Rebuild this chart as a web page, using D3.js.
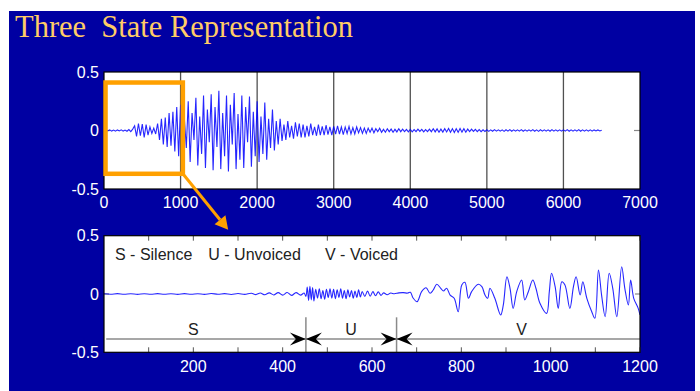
<!DOCTYPE html>
<html><head><meta charset="utf-8">
<script src="https://cdn.jsdelivr.net/npm/d3@7"></script>
<style>
html,body{margin:0;padding:0;background:#fff;}
svg{display:block;}
</style></head>
<body>
<script>
// ---------- DATA ----------
const title = "Three\u00a0\u00a0State Representation";
const topXTicks = [0,1000,2000,3000,4000,5000,6000,7000];
const topYTicks = [-0.5, 0, 0.5];
const topStep = 25; // samples between values of topWave
const topWave = [
 0,0.005,-0.004,0.006,-0.005,0.004,-0.006,0.005,-0.004,0.006,-0.005,0.004,-0.006,0.008,-0.01,0.012,
 0.04,-0.05,0.06,-0.045,0.055,-0.06,0.05,-0.04,
 0.03,-0.025,0.02,-0.03,
 0.06,-0.08,0.1,-0.12,0.11,-0.14,0.15,-0.13,0.16,-0.18,0.2,-0.22,
 0.22,-0.26,0.1,-0.15,0.25,-0.27,0.15,-0.08,0.28,-0.3,0.12,-0.2,0.3,-0.32,0.18,-0.1,0.31,-0.34,0.2,-0.14,
 0.34,-0.33,0.15,-0.22,0.3,-0.35,0.22,-0.12,0.32,-0.33,0.14,-0.25,0.3,-0.32,0.2,-0.1,0.29,-0.31,0.16,-0.22,
 0.25,-0.27,0.12,-0.2,0.24,-0.25,0.1,-0.15,0.18,-0.17,0.08,-0.12,0.1,-0.09,0.05,-0.08,0.08,-0.06,0.04,-0.07,
 0.07,-0.05,0.06,-0.06,0.05,-0.06,0.04,-0.05,0.06,-0.04,0.03,-0.045,0.05,-0.04,0.035,-0.04,0.045,-0.035,0.03,-0.04,
 0.035,-0.03,0.04,-0.03,0.03,-0.035,0.03,-0.025,0.035,-0.03,0.025,-0.03,0.03,-0.02,0.025,-0.025,0.02,-0.025,0.02,-0.015,
 0.02,-0.02,0.015,-0.01,0.02,-0.015,0.01,-0.015,0.015,-0.01,0.012,-0.015,0.01,-0.012,0.015,-0.01,0.012,-0.01,0.01,-0.012,
 0.01,-0.012,0.008,-0.01,0.012,-0.008,0.01,-0.012,0.008,-0.01,0.012,-0.01,0.015,-0.012,0.014,-0.015,0.012,-0.014,0.016,-0.012,
 0.018,-0.015,0.016,-0.018,0.015,-0.016,0.018,-0.014,0.016,-0.015,0.012,-0.01,0.012,-0.008,0.01,-0.01,0.008,-0.01,0.006,-0.008,
 0.006,-0.007,0.005,-0.006,0.007,-0.005,0.006,-0.006,0.005,-0.007,0.006,-0.005,0.007,-0.006,0.005,-0.006,0.006,-0.005,0.007,-0.006,
 0.005,-0.006,0.006,-0.005,0.007,-0.006,0.005,-0.007,0.006,-0.005,0.006,-0.006,0.005,-0.006,0.007,-0.005,0.006,-0.006,0.005,-0.006,
 0.006,-0.005,0.007,-0.006,0.005,-0.006,0.006,-0.005,0.007,-0.006,0.005,-0.006,0.006,-0.005,0.006,-0.006,0.005,-0.004,0.005,-0.004,0.003
];

const bottomXTicks = [100,200,300,400,500,600,700,800,900,1000,1100,1200];
const bottomXLabels = [200,400,600,800,1000,1200];
const bottomYTicks = [-0.5, 0, 0.5];
const bottomWave = [
 [0,0.002],[15,-0.002],[30,0.003],[45,-0.002],[60,0.002],[75,-0.003],[90,0.002],[105,-0.002],[120,0.003],[135,-0.002],
 [150,0.002],[165,-0.003],[180,0.003],[195,-0.002],[210,0.002],[225,-0.003],[240,0.004],[255,-0.002],[270,0.003],[285,-0.004],
 [300,0.004],[315,-0.003],[330,0.006],[340,-0.005],[350,0.008],[360,-0.007],[370,0.01],[380,-0.008],[390,0.012],[400,-0.01],
 [410,0.013],[420,-0.012],[430,0.012],[440,-0.01],[448,0.008],
 [452,-0.02],[455,0.06],[458,-0.055],[461,0.065],[464,-0.05],[467,0.055],[470,-0.06],[474,0.04],[478,-0.035],[482,0.045],
 [486,-0.04],[490,0.03],[494,-0.045],[498,0.04],[502,-0.03],[506,0.045],[510,-0.035],[514,0.04],[518,-0.04],[522,0.035],
 [526,-0.03],[530,0.045],[534,-0.035],[538,0.03],[542,-0.04],[546,0.035],[550,-0.025],[554,0.03],[558,-0.035],[562,0.025],
 [566,-0.03],[570,0.035],[574,-0.025],[578,0.02],[584,-0.02],[590,0.025],[596,-0.018],[602,0.02],[608,-0.015],[614,0.018],
 [620,-0.012],[626,0.01],[634,-0.006],[642,0.008],[650,0.002],[660,0.01],[670,0.012],[680,0.008],[686,0.015],
 [692,-0.034],[701,-0.066],[711,0.02],[721,0.054],[730,0.006],[737,0.034],[745,0.083],[754,0.049],[760,0.026],[767,0.049],
 [775,-0.009],[784,-0.037],[793,-0.152],[801,0.077],[808,0.1],[816,-0.037],[823,0.02],[838,0.083],[846,0.063],[853,-0.009],
 [859,-0.037],[864,0.049],[875,-0.037],[888,-0.18],[894,-0.094],[902,0.148],[909,0.049],[916,-0.123],[924,0.02],[935,0.12],
 [942,-0.051],[950,0.02],[960,0.12],[967,0.049],[976,-0.08],[991,-0.166],[997,0.02],[1002,0.178],[1010,0.063],[1017,-0.123],
 [1025,0.105],[1032,0.077],[1043,-0.123],[1051,0.063],[1057,0.148],[1066,-0.009],[1072,0.105],[1081,-0.037],[1092,-0.152],[1099,-0.208],
 [1107,0.206],[1114,-0.009],[1122,-0.195],[1131,0.178],[1139,0.049],[1148,-0.195],[1159,0.234],[1166,0.049],[1174,-0.094],[1179,0.12],
 [1186,-0.037],[1196,-0.123],[1200,-0.18]
];
const legendItems = ["S - Silence", "U - Unvoiced", "V - Voiced"];
const segBounds = [452, 655];          // sample positions of S/U and U/V boundaries
const segLabels = [["S",200],["U",553],["V",935]];
const zoomBox = {x0: 20, x1: 1030, y0: -0.37, y1: 0.41};

// ---------- LAYOUT ----------
const W = 700, H = 391;
const svg = d3.select("body").append("svg").attr("width", W).attr("height", H);
svg.append("rect").attr("x", 9).attr("y", 11).attr("width", 686).attr("height", 380).attr("fill", "#0000A2");

svg.append("text").attr("x", 15).attr("y", 37)
  .attr("font-family", "'Liberation Serif','Times New Roman',serif")
  .attr("font-size", 30.5).attr("fill", "#FFCC66").text(title);

const font = "'Liberation Sans',Arial,sans-serif";

// top plot
const tx = d3.scaleLinear().domain([0, 7000]).range([104, 640]);
const ty = d3.scaleLinear().domain([-0.5, 0.5]).range([189, 72]);
// bottom plot
const bx = d3.scaleLinear().domain([0, 1200]).range([104, 640]);
const by = d3.scaleLinear().domain([-0.5, 0.5]).range([352.3, 235.7]);

function panel(x, y) {
  svg.append("rect").attr("x", x.range()[0]).attr("y", y.range()[1])
    .attr("width", x.range()[1]-x.range()[0]).attr("height", y.range()[0]-y.range()[1])
    .attr("fill", "#fff");
}
panel(tx, ty); panel(bx, by);

// top grid
const tg = svg.append("g");
tg.selectAll("line").data(topXTicks.slice(1, -1)).join("line")
  .attr("x1", d => tx(d)).attr("x2", d => tx(d)).attr("y1", ty(0.5)).attr("y2", ty(-0.5))
  .attr("stroke", "#505050").attr("stroke-width", 1.3);
[0].forEach(v => {
  svg.append("line").attr("x1", tx(7000)-6).attr("x2", tx(7000)).attr("y1", ty(v)).attr("y2", ty(v)).attr("stroke", "#888").attr("stroke-width", 1.2);
  svg.append("line").attr("x1", tx(0)).attr("x2", tx(0)+6).attr("y1", ty(v)).attr("y2", ty(v)).attr("stroke", "#888").attr("stroke-width", 1.2);
});

// top waveform
const topLine = d3.line().x((d, i) => tx(i*topStep)).y(d => ty(d));
svg.append("path").datum(topWave).attr("d", topLine).attr("fill", "none")
  .attr("stroke", "#0000FF").attr("stroke-width", 1.1).attr("stroke-opacity", 0.85);

// top frame
svg.append("rect").attr("x", 104).attr("y", 72).attr("width", 536).attr("height", 117)
  .attr("fill", "none").attr("stroke", "#000").attr("stroke-width", 1.2);

// top axis labels
svg.append("g").selectAll("text").data(topXTicks).join("text")
  .attr("x", d => tx(d)).attr("y", ty(-0.5) + 19).attr("text-anchor", "middle")
  .attr("font-family", font).attr("font-size", 16).attr("fill", "#fff").text(d => d);
svg.append("g").selectAll("text").data(topYTicks).join("text")
  .attr("x", 99).attr("y", d => ty(d)).attr("dy", "0.36em").attr("text-anchor", "end")
  .attr("font-family", font).attr("font-size", 16).attr("fill", "#fff").text(d => d);

// bottom ticks
const btk = svg.append("g");
bottomXTicks.forEach(v => {
  btk.append("line").attr("x1", bx(v)).attr("x2", bx(v)).attr("y1", by(-0.5)).attr("y2", by(-0.5)-5).attr("stroke", "#555");
  btk.append("line").attr("x1", bx(v)).attr("x2", bx(v)).attr("y1", by(0.5)).attr("y2", by(0.5)+5).attr("stroke", "#555");
});
[0].forEach(v => {
  btk.append("line").attr("x1", bx(1200)-5).attr("x2", bx(1200)).attr("y1", by(v)).attr("y2", by(v)).attr("stroke", "#888").attr("stroke-width", 1.2);
  btk.append("line").attr("x1", bx(0)).attr("x2", bx(0)+5).attr("y1", by(v)).attr("y2", by(v)).attr("stroke", "#888").attr("stroke-width", 1.2);
});

// segment annotation
const segY = -0.387;
svg.append("line").attr("x1", bx(5)).attr("x2", bx(1200)).attr("y1", by(segY)).attr("y2", by(segY))
  .attr("stroke", "#8a8a8a").attr("stroke-width", 1.5);
segBounds.forEach(b => {
  svg.append("line").attr("x1", bx(b)).attr("x2", bx(b)).attr("y1", by(-0.2)).attr("y2", by(-0.5))
    .attr("stroke", "#8a8a8a").attr("stroke-width", 1.5);
  [-1, 1].forEach(s => {
    const tipX = bx(b), tipY = by(segY);
    const pts = [[tipX, tipY], [tipX + s*16, tipY - 6.5], [tipX + s*10, tipY], [tipX + s*16, tipY + 6.5]];
    svg.append("path").attr("d", d3.line()(pts) + "Z").attr("fill", "#000");
  });
});
svg.append("g").selectAll("text").data(segLabels).join("text")
  .attr("x", d => bx(d[1])).attr("y", by(segY) - 4).attr("text-anchor", "middle")
  .attr("font-family", font).attr("font-size", 16).attr("fill", "#222").text(d => d[0]);

// bottom waveform
const bLine = d3.line().x(d => bx(d[0])).y(d => by(d[1])).curve(d3.curveCatmullRom.alpha(0.5));
svg.append("path").datum(bottomWave).attr("d", bLine).attr("fill", "none")
  .attr("stroke", "#0000FF").attr("stroke-width", 1.1).attr("stroke-opacity", 0.85);

// bottom frame
svg.append("rect").attr("x", 104).attr("y", by(0.5)).attr("width", 536).attr("height", by(-0.5)-by(0.5))
  .attr("fill", "none").attr("stroke", "#000").attr("stroke-width", 1.2);

// legend text
const legX = [115, 208.3, 325];
svg.append("g").selectAll("text").data(legendItems).join("text")
  .attr("x", (d, i) => legX[i]).attr("y", 260)
  .attr("font-family", font).attr("font-size", 16).attr("fill", "#222").text(d => d);

// bottom axis labels
svg.append("g").selectAll("text").data(bottomXLabels).join("text")
  .attr("x", d => bx(d)).attr("y", by(-0.5) + 20).attr("text-anchor", "middle")
  .attr("font-family", font).attr("font-size", 16).attr("fill", "#fff").text(d => d);
svg.append("g").selectAll("text").data(bottomYTicks).join("text")
  .attr("x", 99).attr("y", d => by(d)).attr("dy", "0.36em").attr("text-anchor", "end")
  .attr("font-family", font).attr("font-size", 16).attr("fill", "#fff").text(d => d);

// zoom box + connector arrow
const orange = "#FFA000";
svg.append("rect").attr("x", tx(zoomBox.x0)).attr("y", ty(zoomBox.y1))
  .attr("width", tx(zoomBox.x1)-tx(zoomBox.x0)).attr("height", ty(zoomBox.y0)-ty(zoomBox.y1))
  .attr("fill", "none").attr("stroke", orange).attr("stroke-width", 4.5);
const ax0 = tx(zoomBox.x1), ay0 = ty(zoomBox.y0);
const ax1 = bx(278), ay1 = by(0.55);
const ang = Math.atan2(ay1 - ay0, ax1 - ax0);
const hl = 13, hw = 7;
const bxp = ax1 - hl*Math.cos(ang), byp = ay1 - hl*Math.sin(ang);
svg.append("line").attr("x1", ax0).attr("y1", ay0).attr("x2", bxp).attr("y2", byp)
  .attr("stroke", orange).attr("stroke-width", 3);
svg.append("path").attr("d", d3.line()([
  [ax1, ay1],
  [bxp + hw*Math.sin(ang), byp - hw*Math.cos(ang)],
  [bxp - hw*Math.sin(ang), byp + hw*Math.cos(ang)]
]) + "Z").attr("fill", orange);
</script>
</body></html>
